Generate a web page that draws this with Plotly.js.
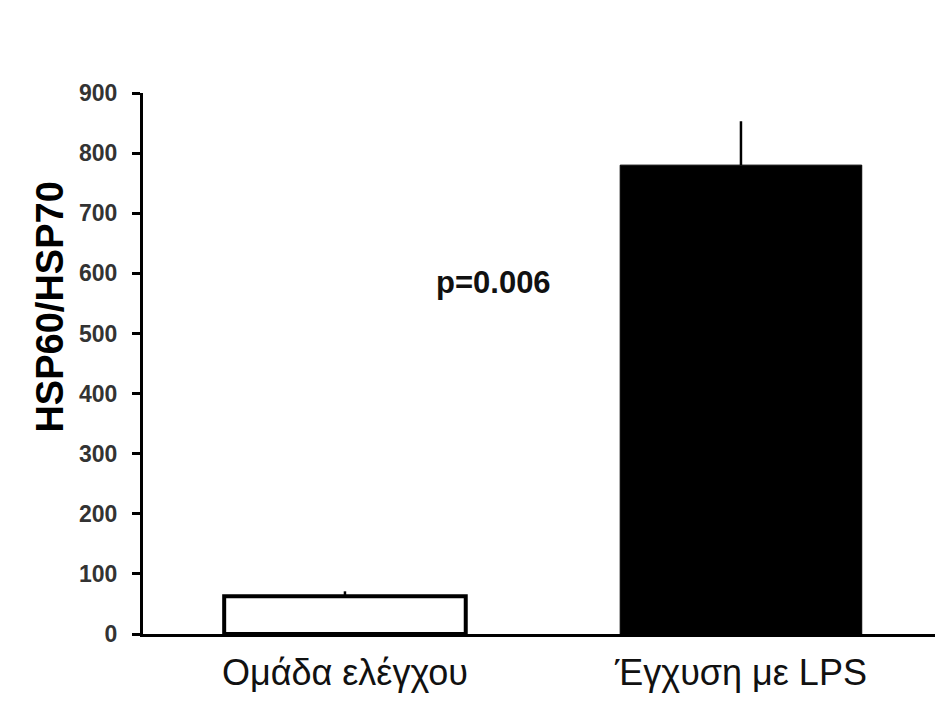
<!DOCTYPE html>
<html>
<head>
<meta charset="utf-8">
<script src="https://cdn.plot.ly/plotly-3.0.1.min.js"></script>
<style>html,body{margin:0;padding:0;background:#fff;}#chart{width:950px;height:705px;}</style>
</head>
<body>
<div id="chart"></div>
<script>
const categories = ["Ομάδα ελέγχου", "Έγχυση με LPS"];
const values = [63, 780];
const errors = [8, 73];
const yTicks = [0, 100, 200, 300, 400, 500, 600, 700, 800, 900];
const pLabel = "p=0.006";
const yTitle = "HSP60/HSP70";

const trace = {
  type: "bar",
  x: categories,
  y: values,
  width: 0.61,
  marker: {
    color: ["#ffffff", "#000000"],
    line: {color: ["#000000", "#000000"], width: [4, 1]}
  },
  error_y: {type: "data", array: errors, arrayminus: [0, 0], symmetric: false, color: "#000000", thickness: 2.5, width: 0},
  hoverinfo: "skip"
};

const layout = {
  width: 950, height: 705,
  margin: {l: 143, r: 15, t: 93, b: 71},
  paper_bgcolor: "#ffffff", plot_bgcolor: "#ffffff",
  showlegend: false,
  xaxis: {
    type: "category",
    range: [-0.51, 1.49],
    showline: true, linecolor: "#000000", linewidth: 3,
    ticks: "", showgrid: false, zeroline: false,
    tickfont: {family: "Arial, Liberation Sans, sans-serif", size: 36, color: "#111111"},
    ticklabelstandoff: 5
  },
  yaxis: {
    range: [0, 900],
    tickvals: yTicks,
    showline: true, linecolor: "#000000", linewidth: 3,
    ticks: "outside", ticklen: 8, tickwidth: 3, tickcolor: "#000000",
    showgrid: false, zeroline: false,
    tickfont: {family: "Arial, Liberation Sans, sans-serif", size: 23, color: "#333333", weight: "bold"},
    ticklabelstandoff: 10
  },
  annotations: [{
    x: 0.375, y: 584, xref: "x", yref: "y",
    text: "<b>" + pLabel + "</b>", showarrow: false,
    font: {family: "Arial, Liberation Sans, sans-serif", size: 31, color: "#111111"}
  }, {
    x: -0.117, y: 0.604, xref: "paper", yref: "paper", xanchor: "center", yanchor: "middle",
    text: "<b>" + yTitle + "</b>", showarrow: false, textangle: -90,
    font: {family: "Arial, Liberation Sans, sans-serif", size: 38, color: "#000000"}
  }]
};

Plotly.newPlot("chart", [trace], layout, {displayModeBar: false, staticPlot: true});
</script>
</body>
</html>
